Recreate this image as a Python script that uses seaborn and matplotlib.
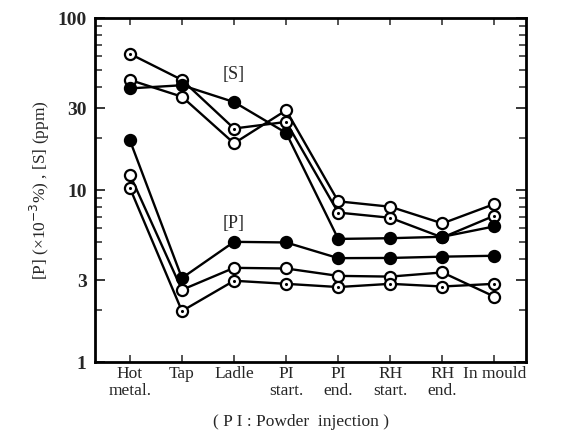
import numpy as np
import pandas as pd
import matplotlib
matplotlib.use("Agg")
import matplotlib.pyplot as plt
import seaborn as sns
from matplotlib.ticker import LogLocator, FixedLocator, NullFormatter

categories = ["Hot\nmetal.", "Tap", "Ladle", "PI\nstart.", "PI\nend.", "RH\nstart.", "RH\nend.", "In mould"]

# [S] (ppm)
s_dotted = [62, 43.7, 22.8, 24.9, 7.4, 6.9, 5.3, 7.1]
s_open = [43.7, 34.9, 18.7, 29.1, 8.6, 8.0, 6.4, 8.3]
s_filled = [39, 40.7, 32.5, 21.5, 5.2, 5.25, 5.35, 6.15]
# [P] (x10^-3 %)
p_filled = [19.5, 3.08, 5.0, 4.96, 4.02, 4.03, 4.1, 4.15]
p_open = [12.3, 2.63, 3.53, 3.5, 3.17, 3.14, 3.32, 2.4]
p_dotted = [10.3, 1.98, 2.97, 2.85, 2.73, 2.85, 2.75, 2.85]

series = [
    ("S dotted", s_dotted, "dotted"),
    ("S open", s_open, "open"),
    ("S filled", s_filled, "filled"),
    ("P filled", p_filled, "filled"),
    ("P open", p_open, "open"),
    ("P dotted", p_dotted, "dotted"),
]

sns.set_theme(style="white")
plt.rcParams["font.family"] = ["Liberation Serif", "DejaVu Serif"]

fig = plt.figure(figsize=(5.79, 4.41), dpi=100)
ax = fig.add_axes([0.164, 0.179, 0.744, 0.780])

pos = np.arange(len(categories))
for name, vals, kind in series:
    df = pd.DataFrame({"x": pos, "y": vals})
    face = "black" if kind == "filled" else "white"
    sns.lineplot(data=df, x="x", y="y", ax=ax, color="black", linewidth=1.7,
                 marker="o", markersize=8, markerfacecolor=face,
                 markeredgecolor="black", markeredgewidth=1.6, zorder=3)
    if kind == "dotted":
        sns.scatterplot(data=df, x="x", y="y", ax=ax, color="black", s=5,
                        marker="o", edgecolor="black", linewidth=0, zorder=4)

ax.set_yscale("log")
ax.set_ylim(1, 100)
ax.set_xlim(-0.67, len(categories) - 1 + 0.6)
ax.yaxis.set_major_locator(FixedLocator([1, 3, 10, 30, 100]))
ax.set_yticklabels(["1", "3", "10", "30", "100"])
ax.yaxis.set_minor_locator(LogLocator(base=10, subs=[2, 4, 5, 6, 7, 8, 9]))
ax.yaxis.set_minor_formatter(NullFormatter())
ax.set_xticks(pos)
ax.set_xticklabels(categories, fontsize=12.5, linespacing=1.05)
for lbl in ax.get_yticklabels():
    lbl.set_fontweight("bold")
ax.tick_params(axis="y", which="major", direction="in", length=7, width=1.3,
               left=True, right=True, labelsize=14, pad=6)
ax.tick_params(axis="y", which="minor", direction="in", length=5, width=1.1,
               left=True, right=True)
ax.tick_params(axis="x", which="major", direction="in", length=5, width=1.1,
               bottom=True, top=True, pad=3)
for sp in ax.spines.values():
    sp.set_color("black")
    sp.set_linewidth(2)

ax.set_xlabel("")
ax.set_ylabel("[P] (×10$^{-3}$%) , [S] (ppm)", fontsize=12.5, labelpad=4)

ax.text(2, 47, "[S]", fontsize=13, ha="center", va="center")
ax.text(2, 6.4, "[P]", fontsize=13, ha="center", va="center")

fig.text(0.52, 0.043, "( P I : Powder  injection )", fontsize=12.5, ha="center", va="center")

fig.savefig("out.png", dpi=100, facecolor="white")
